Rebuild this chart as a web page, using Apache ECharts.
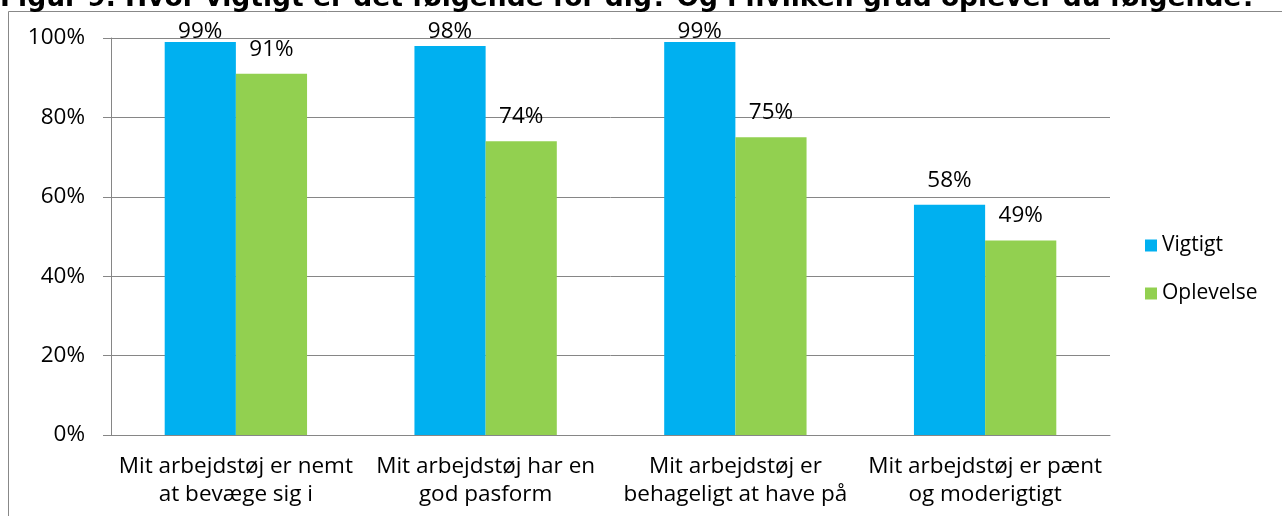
<!DOCTYPE html>
<html>
<head>
<meta charset="utf-8">
<script src="https://cdn.jsdelivr.net/npm/echarts@6/dist/echarts.min.js"></script>
<style>html,body{margin:0;padding:0;background:#fff;}#c{width:1282px;height:516px;}</style>
</head>
<body>
<div id="c"></div>
<script>
var categories = ["Mit arbejdstøj er nemt\nat bevæge sig i", "Mit arbejdstøj har en\ngod pasform", "Mit arbejdstøj er\nbehageligt at have på", "Mit arbejdstøj er pænt\nog moderigtigt"];
var vigtigt = [99, 98, 99, 58];
var oplevelse = [91, 74, 75, 49];
var seriesNames = ["Vigtigt", "Oplevelse"];
var titleText = "Figur 9. Hvor vigtigt er det følgende for dig? Og i hvilken grad oplever du følgende?";

var FONT = "Open Sans";
var FS = 22.5;
var chart = echarts.init(document.getElementById('c'));
function lbl(vals, overrides) {
  return vals.map(function (v, i) {
    var d = { value: v };
    if (overrides && overrides[i] !== undefined) d.label = { distance: overrides[i] };
    return d;
  });
}
chart.setOption({
  animation: false,
  graphic: [
    { type: 'rect', shape: { x: 8.5, y: 11.5, width: 1400, height: 700 }, style: { fill: 'none', stroke: '#888', lineWidth: 1 } },
    { type: 'text', x: 0, y: 13, style: { text: titleText, font: 'bold 26.5px "DejaVu Sans"', fill: '#000', verticalAlign: 'bottom', align: 'left' } }
  ],
  legend: {
    orient: 'vertical', left: 1140, top: 230,
    itemWidth: 12, itemHeight: 12, itemGap: 27, icon: 'rect',
    textStyle: { fontFamily: FONT, fontSize: 21, color: '#000', lineHeight: 21 },
    data: seriesNames
  },
  grid: { left: 111, right: 172, top: 38, bottom: 81, containLabel: false },
  xAxis: {
    type: 'category', data: categories,
    axisLine: { lineStyle: { color: '#868686' } },
    axisTick: { length: 8, lineStyle: { color: '#868686' } },
    axisLabel: { interval: 0, margin: 18, fontFamily: FONT, fontSize: FS, color: '#000', lineHeight: 28 }
  },
  yAxis: {
    type: 'value', min: 0, max: 100, interval: 20,
    axisLine: { show: true, lineStyle: { color: '#868686' } },
    axisTick: { show: true, length: 8, lineStyle: { color: '#868686' } },
    splitLine: { lineStyle: { color: '#868686' } },
    axisLabel: { formatter: '{value}%', margin: 26, fontFamily: FONT, fontSize: FS, color: '#000' }
  },
  series: [
    { name: seriesNames[0], type: 'bar', barGap: '0%', barCategoryGap: '43%', itemStyle: { color: '#00B0F0' },
      label: { show: true, position: 'top', distance: 13, formatter: '{c}%', fontFamily: FONT, fontSize: FS, color: '#000' },
      data: lbl(vigtigt, { 0: -1, 1: 3, 2: -1 }) },
    { name: seriesNames[1], type: 'bar', itemStyle: { color: '#92D050' },
      label: { show: true, position: 'top', distance: 13, formatter: '{c}%', fontFamily: FONT, fontSize: FS, color: '#000' },
      data: lbl(oplevelse) }
  ]
});
</script>
</body>
</html>
